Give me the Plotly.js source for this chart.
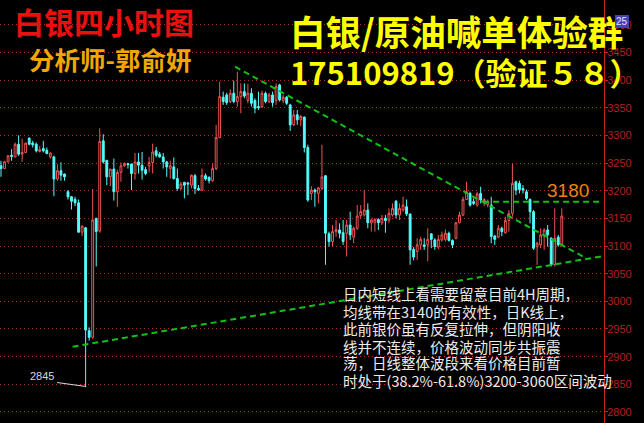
<!DOCTYPE html>
<html>
<head>
<meta charset="utf-8">
<script src="https://cdn.plot.ly/plotly-3.0.1.min.js"></script>
<style>
  html, body { margin: 0; padding: 0; background: #000; }
  #chart { width: 644px; height: 423px; }
</style>
</head>
<body>
<div id="chart"></div>
<script>
// Silver, 4-hour candles (oldest first)
const priceOpen = [
  3245,3240,3252,3264,3261,3284,3266,3269,3295,3286,3284,3271,3276,3273,3261,3261,3221,3236,3230,3198,
  3189,3184,3178,3125,3133,2947,2935,3150,3127,3290,3255,3225,3239,3198,3233,3245,3249,3248,3231,3252,
  3246,3238,3245,3251,3272,3266,3261,3252,3240,3243,3222,3204,3215,3214,3210,3227,3204,3201,3227,3224,
  3218,3240,3296,3369,3373,3361,3376,3361,3370,3379,3363,3376,3363,3352,3352,3376,3361,3373,3363,3391,
  3363,3369,3355,3319,3337,3328,3333,3278,3195,3201,3195,3204,3227,3122,3108,3126,3129,3124,3123,3138,
  3116,3132,3155,3156,3165,3142,3142,3148,3142,3150,3147,3156,3181,3156,3165,3171,3158,3094,3090,3102,
  3102,3102,3122,3111,3098,3111,3112,3123,3110,3114,3142,3156,3184,3195,3180,3174,3195,3178,3175,3174,
  3118,3116,3132,3124,3146,3159,3216,3213,3204,3198,3184,3162,3099,3102,3118,3129,3114,3066,3116,3102
];
const priceHigh = [
  3254,3254,3264,3275,3287,3300,3294,3287,3296,3290,3287,3281,3290,3278,3269,3263,3248,3251,3231,3201,
  3190,3189,3184,3137,3134,2953,3203,3151,3313,3302,3255,3239,3258,3238,3251,3251,3250,3249,3268,3268,
  3270,3243,3261,3285,3279,3270,3268,3254,3254,3260,3240,3216,3216,3216,3229,3230,3210,3240,3231,3226,
  3249,3319,3397,3379,3377,3383,3399,3415,3394,3394,3393,3385,3367,3379,3381,3379,3377,3379,3394,3393,
  3373,3371,3357,3346,3346,3337,3334,3283,3208,3204,3207,3283,3228,3126,3138,3147,3141,3147,3147,3162,
  3135,3174,3174,3201,3177,3150,3150,3150,3156,3156,3168,3177,3183,3177,3189,3184,3158,3098,3114,3117,
  3114,3132,3123,3114,3120,3126,3130,3126,3112,3144,3162,3189,3216,3198,3186,3198,3207,3187,3184,3189,
  3120,3138,3135,3153,3165,3249,3218,3218,3210,3202,3186,3165,3108,3132,3132,3138,3116,3168,3120,3168
];
const priceLow = [
  3225,3239,3251,3254,3260,3263,3252,3268,3282,3278,3269,3269,3269,3266,3258,3190,3218,3218,3218,3184,
  3166,3172,3124,3118,2845,2929,2932,3063,3124,3249,3210,3208,3182,3171,3216,3243,3240,3201,3220,3231,
  3220,3228,3233,3231,3260,3260,3240,3225,3222,3220,3200,3201,3186,3192,3204,3194,3200,3200,3218,3213,
  3216,3237,3295,3355,3355,3358,3358,3352,3340,3367,3358,3352,3340,3346,3349,3358,3358,3352,3355,3361,
  3358,3355,3308,3317,3319,3317,3269,3180,3183,3171,3177,3201,3066,3099,3099,3117,3114,3102,3081,3111,
  3105,3129,3150,3153,3132,3126,3126,3129,3138,3124,3141,3153,3150,3147,3162,3154,3066,3074,3075,3093,
  3093,3072,3096,3093,3094,3108,3108,3108,3096,3112,3141,3154,3183,3171,3174,3171,3177,3172,3170,3105,
  3102,3114,3118,3122,3126,3153,3192,3195,3195,3183,3141,3093,3066,3096,3093,3099,3063,3063,3099,3099
];
const priceClose = [
  3240,3252,3263,3262,3284,3266,3269,3286,3284,3283,3272,3274,3272,3267,3268,3221,3236,3228,3225,3189,
  3181,3178,3125,3136,2948,2935,3147,3126,3289,3252,3225,3239,3198,3233,3245,3249,3247,3231,3252,3246,
  3237,3231,3251,3270,3264,3261,3252,3243,3245,3222,3204,3212,3210,3212,3228,3204,3201,3228,3221,3218,
  3240,3296,3370,3361,3359,3376,3361,3370,3379,3371,3376,3358,3349,3350,3376,3361,3373,3359,3388,3364,
  3369,3358,3319,3337,3328,3334,3278,3183,3201,3198,3205,3225,3123,3108,3126,3130,3123,3108,3138,3120,
  3132,3154,3162,3165,3142,3147,3148,3142,3150,3146,3159,3168,3156,3168,3174,3158,3093,3080,3102,3112,
  3099,3112,3112,3099,3112,3120,3123,3110,3102,3142,3156,3184,3198,3174,3177,3194,3183,3184,3180,3117,
  3112,3132,3126,3146,3159,3213,3201,3202,3201,3186,3162,3096,3105,3120,3129,3120,3066,3114,3102,3154
];
const barIndex = priceOpen.map((_, i) => i);

// Trend lines: [bar index, price]
const resistanceX = [66.35, 165.0];
const resistanceY = [3424, 3081];
const supportX = [20.3, 170.97];
const supportY = [2918, 3082];
const levelX = [136.7, 169.8];
const levelPrice = 3180;
const lowPrice = 2845;

const upColor = '#f05454';
const downColor = '#54fcfc';
const trendColor = '#12c012';

const traces = [
  {
    type: 'candlestick',
    x: barIndex,
    open: priceOpen, high: priceHigh, low: priceLow, close: priceClose,
    increasing: { line: { color: upColor, width: 1 }, fillcolor: '#000000' },
    decreasing: { line: { color: downColor, width: 1 }, fillcolor: downColor },
    whiskerwidth: 0,
    hoverinfo: 'skip'
  },
  {
    type: 'scatter', mode: 'lines', x: resistanceX, y: resistanceY,
    line: { color: trendColor, width: 2, dash: '6px,4px' }, hoverinfo: 'skip'
  },
  {
    type: 'scatter', mode: 'lines', x: supportX, y: supportY,
    line: { color: trendColor, width: 2, dash: '6px,4px' }, hoverinfo: 'skip'
  },
  {
    type: 'scatter', mode: 'lines', x: levelX, y: [levelPrice, levelPrice],
    line: { color: trendColor, width: 2, dash: '6px,4px' }, hoverinfo: 'skip'
  }
];

const W = 604, H = 423;
const px = v => v / W;
const py = v => 1 - v / H;

const cjk = 'Noto Sans CJK SC, sans-serif';
const notes = [
  '日内短线上看需要留意目前4H周期，',
  '均线带在3140的有效性，日K线上，',
  '此前银价虽有反复拉伸，但阴阳收',
  '线并不连续，价格波动同步共振震',
  '荡，日线整体波段来看价格目前暂',
  '时处于(38.2%-61.8%)3200-3060区间波动'
];
const noteY = [293.5, 311, 328.5, 346, 362.5, 380];

const annotations = [
  { text: '白银四小时图', x: px(14), y: py(21), xanchor: 'left', yanchor: 'middle',
    font: { family: cjk, size: 30, color: '#e81010', weight: 700 } },
  { text: '分析师-郭俞妍', x: px(29), y: py(59), xanchor: 'left', yanchor: 'middle',
    font: { family: cjk, size: 25.5, color: '#f0a800', weight: 700 } },
  { text: '白银/原油喊单体验群', x: px(290), y: py(31), xanchor: 'left', yanchor: 'middle',
    font: { family: cjk, size: 35.5, color: '#ffff00', weight: 700 } },
  { text: '175109819（验证５８）', x: px(290), y: py(71), xanchor: 'left', yanchor: 'middle',
    font: { family: cjk, size: 31, color: '#ffff00', weight: 700 } },
  { text: String(levelPrice), x: px(547), y: py(190), xanchor: 'left', yanchor: 'middle',
    font: { family: 'Liberation Sans, sans-serif', size: 19, color: '#f08010' } },
  { text: String(lowPrice), x: px(30), y: py(376), xanchor: 'left', yanchor: 'middle',
    font: { family: 'Liberation Sans, sans-serif', size: 11, color: '#d8d8d8' } },
  // small period tag at the top of the price scale
  { text: '25', x: px(622), y: py(22), xanchor: 'center', yanchor: 'middle',
    bgcolor: '#4a3fb8', font: { family: 'Liberation Sans, sans-serif', size: 10, color: '#e0e0ff' } }
].concat(notes.map((t, i) => ({
  text: t, x: px(343), y: py(noteY[i]), xanchor: 'left', yanchor: 'middle',
  font: { family: cjk, size: 14.5, color: '#ececec' }
})));

annotations.forEach(a => {
  a.xref = 'paper'; a.yref = 'paper'; a.showarrow = false;
  a.borderwidth = 0;
  if (!a.bgcolor) a.borderpad = 0;
});

const layout = {
  width: 644, height: 423,
  margin: { l: 0, r: 40, t: 0, b: 0, pad: 0 },
  paper_bgcolor: '#000000', plot_bgcolor: '#000000',
  showlegend: false,
  boxgap: 0.25,
  xaxis: {
    range: [-0.28, 170.97], visible: false, showgrid: false, zeroline: false,
    rangeslider: { visible: false }
  },
  yaxis: {
    side: 'right', range: [2780.1, 3544.6], tick0: 0, dtick: 50,
    showgrid: true, gridcolor: '#c02828', gridwidth: 1, griddash: '1px,3px',
    showline: true, linecolor: '#c81e1e', linewidth: 1,
    ticks: 'outside', ticklen: 3, tickcolor: '#c81e1e', ticklabelstandoff: -3,
    tickfont: { family: 'Liberation Sans, sans-serif', size: 11, color: '#b42020' },
    zeroline: false
  },
  shapes: [
    { type: 'line', xref: 'paper', yref: 'paper',
      x0: px(57), y0: py(382.5), x1: px(86), y1: py(386.5),
      line: { color: '#d8d8d8', width: 1 } }
  ],
  annotations: annotations
};

Plotly.newPlot('chart', traces, layout, { staticPlot: true, displayModeBar: false });
</script>
</body>
</html>
